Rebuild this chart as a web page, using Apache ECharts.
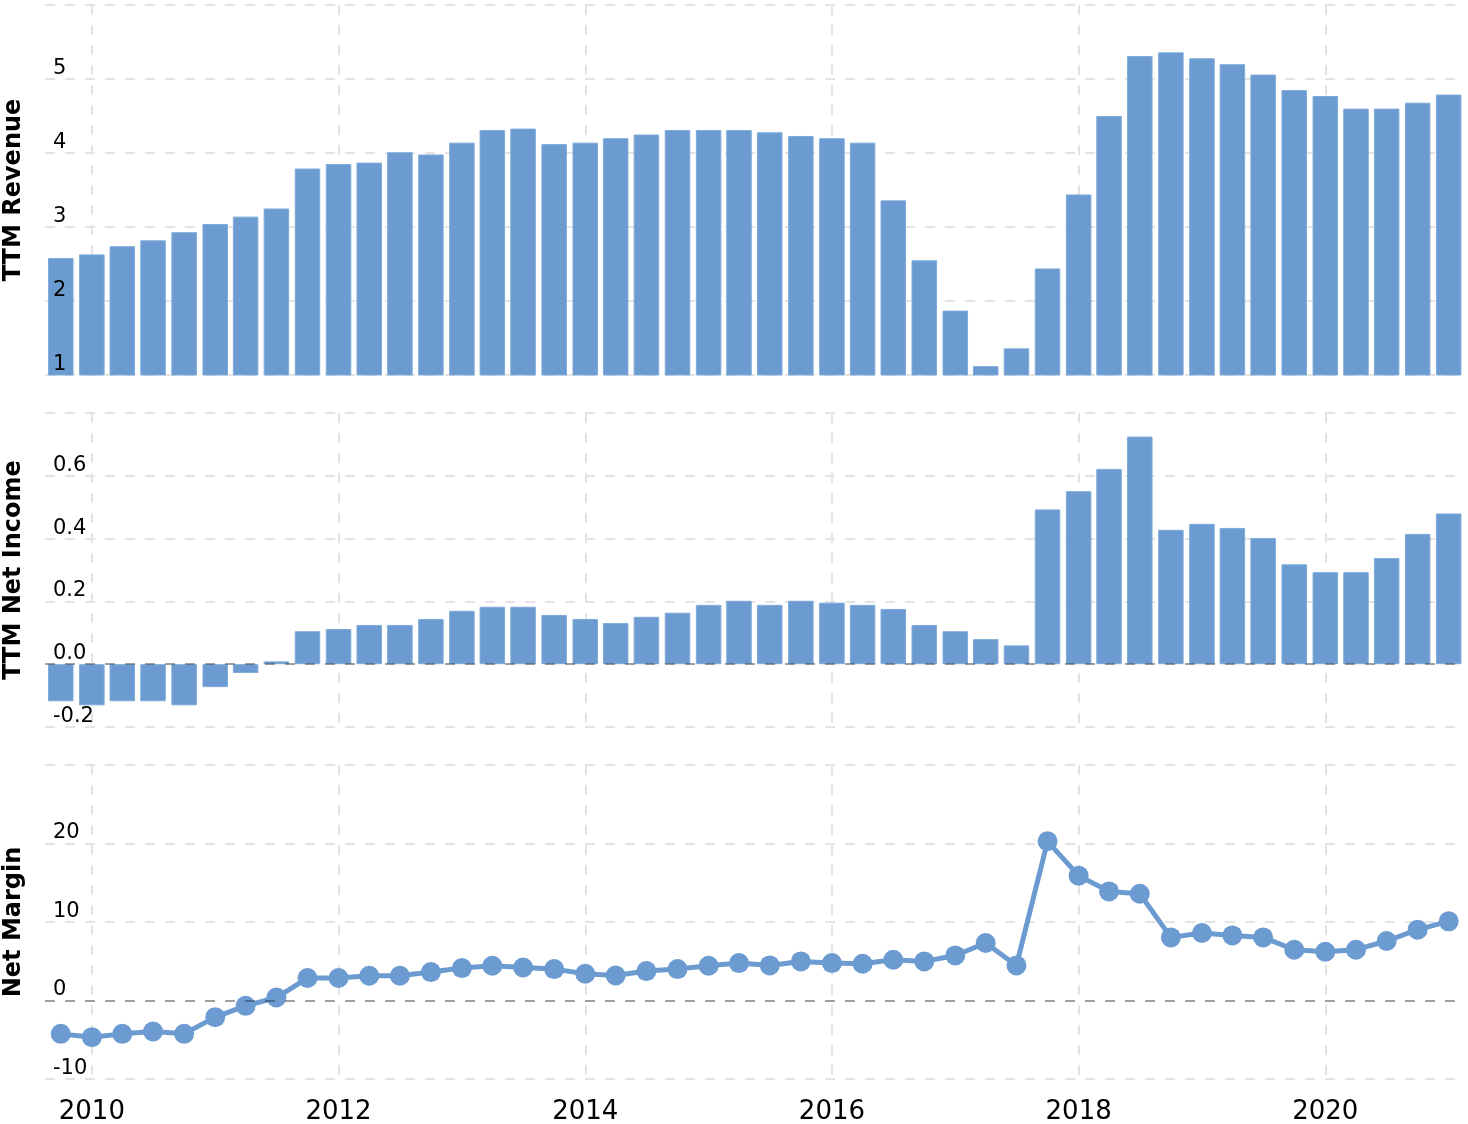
<!DOCTYPE html>
<html><head><meta charset="utf-8">
<script src="https://cdn.jsdelivr.net/npm/echarts@6/dist/echarts.min.js"></script>
<style>html,body{margin:0;padding:0;background:#fff}#c{width:1468px;height:1124px}</style>
</head><body><div id="c"></div>
<script>
const quarterEnds = [
  '2009-09-30','2009-12-31','2010-03-31','2010-06-30','2010-09-30','2010-12-31',
  '2011-03-31','2011-06-30','2011-09-30','2011-12-31','2012-03-31','2012-06-30',
  '2012-09-30','2012-12-31','2013-03-31','2013-06-30','2013-09-30','2013-12-31',
  '2014-03-31','2014-06-30','2014-09-30','2014-12-31','2015-03-31','2015-06-30',
  '2015-09-30','2015-12-31','2016-03-31','2016-06-30','2016-09-30','2016-12-31',
  '2017-03-31','2017-06-30','2017-09-30','2017-12-31','2018-03-31','2018-06-30',
  '2018-09-30','2018-12-31','2019-03-31','2019-06-30','2019-09-30','2019-12-31',
  '2020-03-31','2020-06-30','2020-09-30','2020-12-31'
];
const ttmRevenue = [
  2.58, 2.63, 2.74, 2.82, 2.93, 3.04, 3.14, 3.25, 3.79, 3.85, 3.87, 4.01,
  3.98, 4.14, 4.31, 4.33, 4.12, 4.14, 4.20, 4.25, 4.31, 4.31, 4.31, 4.28,
  4.23, 4.20, 4.14, 3.36, 2.55, 1.87, 1.12, 1.36, 2.44, 3.44, 4.50, 5.31,
  5.36, 5.28, 5.20, 5.06, 4.85, 4.77, 4.60, 4.60, 4.68, 4.79
];
const ttmNetIncome = [
  -0.118, -0.131, -0.118, -0.118, -0.131, -0.073, -0.028, 0.009, 0.105, 0.112, 0.125, 0.125,
  0.144, 0.170, 0.183, 0.183, 0.157, 0.144, 0.131, 0.151, 0.164, 0.189, 0.202, 0.189,
  0.202, 0.196, 0.189, 0.176, 0.125, 0.105, 0.080, 0.060, 0.493, 0.551, 0.622, 0.725,
  0.428, 0.447, 0.434, 0.402, 0.318, 0.293, 0.293, 0.338, 0.415, 0.480
];
const netMargin = [
  -4.25, -4.67, -4.25, -3.95, -4.25, -2.12, -0.68, 0.38, 2.86, 2.86, 3.15, 3.15,
  3.62, 4.13, 4.43, 4.21, 4.00, 3.41, 3.19, 3.75, 4.00, 4.43, 4.77, 4.47,
  4.98, 4.77, 4.68, 5.19, 4.98, 5.74, 7.32, 4.47, 20.28, 15.9, 13.9, 13.6,
  8.04, 8.60, 8.29, 8.04, 6.47, 6.21, 6.47, 7.58, 9.02, 10.08
];
const yearTicks = [2010, 2012, 2014, 2016, 2018, 2020];
const panelNames = ['TTM Revenue', 'TTM Net Income', 'Net Margin'];

function toYear(s) {
  const p = s.split('-').map(Number);
  const t = Date.UTC(p[0], p[1] - 1, p[2] + 1);
  const a = Date.UTC(p[0], 0, 1), b = Date.UTC(p[0] + 1, 0, 1);
  return p[0] + (t - a) / (b - a);
}
const xs = quarterEnds.map(toYear);
const pair = arr => arr.map((v, i) => [xs[i], v]);

const FONT = 'DejaVu Sans';
const BLUE = '#6b9bd0';
const gridLine = { show: true, lineStyle: { color: '#e4e4e4', width: 2, type: [10, 10] } };
const zeroLine = {
  silent: true, symbol: ['none', 'none'], label: { show: false },
  lineStyle: { color: 'rgba(0,0,0,0.3)', width: 2, type: [10, 10] },
  data: [{ yAxis: 0 }], animation: false
};

const grids = [
  { left: 45, right: 7, top: 5, height: 370, outerBoundsMode: 'none', containLabel: false },
  { left: 45, right: 7, top: 413, height: 314, outerBoundsMode: 'none', containLabel: false },
  { left: 45, right: 7, top: 765, height: 314, outerBoundsMode: 'none', containLabel: false }
];
const xAxes = [0, 1, 2].map(i => ({
  type: 'value', gridIndex: i, min: 2009.62, max: 2021.1,
  axisLine: { show: false },
  axisTick: { show: false, customValues: yearTicks },
  axisLabel: {
    show: i === 2, customValues: yearTicks, formatter: v => String(Math.round(v)),
    fontSize: 26, color: '#000', margin: 20, fontFamily: FONT
  },
  splitLine: gridLine
}));
const yRanges = [
  { min: 1, max: 6, interval: 1, fmt: v => String(Math.round(v)) },
  { min: -0.2, max: 0.8, interval: 0.2, fmt: v => v.toFixed(1) },
  { min: -10, max: 30, interval: 10, fmt: v => String(Math.round(v)) }
];
// grid-line axes (behind the marks, carry the panel names)
const yAxes = yRanges.map((r, i) => ({
  type: 'value', gridIndex: i, position: 'left', min: r.min, max: r.max, interval: r.interval,
  name: panelNames[i], nameLocation: 'middle', nameGap: 19,
  nameTextStyle: { fontSize: 24, fontWeight: 'bold', color: '#000', fontFamily: FONT },
  axisLine: { show: false }, axisTick: { show: false },
  axisLabel: { show: false },
  splitLine: gridLine
}));
// label axes (drawn above the marks)
yRanges.forEach((r, i) => yAxes.push({
  type: 'value', gridIndex: i, position: 'left', offset: 0, z: 10,
  min: r.min, max: r.max, interval: r.interval,
  axisLine: { show: false }, axisTick: { show: false }, splitLine: { show: false },
  axisLabel: {
    inside: true, margin: 8, formatter: r.fmt, showMaxLabel: false,
    verticalAlign: 'bottom',
    fontSize: 21, color: '#000', fontFamily: FONT
  }
}));

const chart = echarts.init(document.getElementById('c'), null, { renderer: 'canvas' });
chart.setOption({
  animation: false,
  backgroundColor: '#fff',
  grid: grids,
  xAxis: xAxes,
  yAxis: yAxes,
  series: [
    {
      type: 'bar', xAxisIndex: 0, yAxisIndex: 0, data: pair(ttmRevenue), barWidth: 25.5,
      itemStyle: { color: BLUE, borderColor: '#7eaad9', borderWidth: 1 }
    },
    {
      type: 'bar', xAxisIndex: 1, yAxisIndex: 1, data: pair(ttmNetIncome), barWidth: 25.5,
      itemStyle: { color: BLUE, borderColor: '#7eaad9', borderWidth: 1 },
      markLine: zeroLine
    },
    {
      type: 'line', xAxisIndex: 2, yAxisIndex: 2, data: pair(netMargin),
      symbol: 'circle', symbolSize: 20,
      lineStyle: { color: BLUE, width: 5 }, itemStyle: { color: BLUE },
      markLine: zeroLine
    }
  ]
});
</script>
</body></html>
